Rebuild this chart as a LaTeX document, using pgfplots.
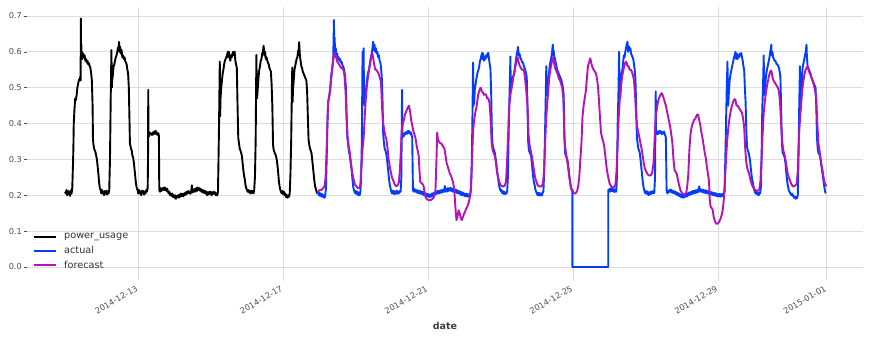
\documentclass[border=0pt]{standalone}
\usepackage{pgfplots}
\pgfplotsset{compat=1.18}
\usepackage{fontspec}
\setmainfont{DejaVu Sans}
\definecolor{dblue}{HTML}{003DFD}
\definecolor{dmag}{HTML}{B512B8}
\definecolor{dgrid}{HTML}{DEDEDE}
\definecolor{dtick}{HTML}{4D4D4D}
\begin{document}
\begin{tikzpicture}
\begin{axis}[name=ax,
  scale only axis, width=836bp, height=271bp,
  xmin=-3.07, xmax=20.0, ymin=-0.0307, ymax=0.725,
  axis line style={draw=none},
  grid=major, grid style={color=dgrid, line width=0.8bp},
  xtick={0,4,8,12,16,19},
  xticklabels={2014-12-13,2014-12-17,2014-12-21,2014-12-25,2014-12-29,2015-01-01},
  ytick={0,0.1,0.2,0.3,0.4,0.5,0.6,0.7},
  xtick pos=bottom, ytick pos=left, tick align=outside,
  major tick length=3bp,
  tick style={color=dtick, line width=0.6bp},
  x tick style={color=dgrid, line width=0.8bp},
  /pgf/number format/assume math mode=true,
  ticklabel style={font=\fontsize{8.2bp}{9.5bp}\selectfont, text=dtick},
  xticklabel style={rotate=30, anchor=north east, inner sep=2bp, xshift=-2.5bp},
  yticklabel style={/pgf/number format/fixed, /pgf/number format/fixed zerofill, /pgf/number format/precision=1, inner sep=2bp},
  xlabel={date},
  every axis x label/.style={at={(rel axis cs:0.5,0)}, yshift=-48bp, anchor=center, font=\fontsize{9.5bp}{11bp}\selectfont\bfseries, text=dtick!80!black},
  legend style={draw=none, fill=none, at={(rel axis cs:0.0,0.0)}, anchor=south west, xshift=4bp, yshift=4bp,
    font=\fontsize{9.7bp}{11bp}\selectfont, text=black!80, row sep=2bp, inner sep=2bp,
    /tikz/every odd column/.append style={column sep=5bp}},
  legend cell align=left,
  legend image code/.code={\draw[#1, line width=2bp] (0bp,0bp) -- (22bp,0bp);},
  every axis plot/.append style={line width=1.9bp, line join=round},
]
\addplot[black] coordinates {
(-2.02,0.210)(-2.00,0.205)(-1.98,0.215)(-1.96,0.200)(-1.94,0.212)(-1.92,0.203)(-1.90,0.210)(-1.88,0.198)(-1.86,0.214)(-1.84,0.205)
(-1.82,0.222)(-1.80,0.29)(-1.79,0.33)(-1.78,0.40)(-1.77,0.42)(-1.76,0.44)(-1.74,0.47)(-1.72,0.465)(-1.70,0.48)(-1.68,0.50)
(-1.66,0.51)(-1.64,0.52)(-1.62,0.525)(-1.60,0.53)(-1.59,0.52)(-1.585,0.693)(-1.58,0.58)(-1.57,0.62)(-1.56,0.585)(-1.55,0.60)
(-1.54,0.58)(-1.52,0.595)(-1.50,0.585)(-1.48,0.590)(-1.46,0.575)(-1.44,0.580)(-1.42,0.570)(-1.40,0.575)(-1.38,0.565)(-1.36,0.568)
(-1.34,0.560)(-1.32,0.555)(-1.30,0.540)(-1.28,0.52)(-1.26,0.45)(-1.25,0.36)(-1.24,0.345)(-1.22,0.33)(-1.20,0.325)(-1.18,0.32)
(-1.16,0.31)(-1.14,0.30)(-1.12,0.28)(-1.10,0.26)(-1.08,0.235)(-1.06,0.22)(-1.04,0.215)(-1.02,0.205)(-1.00,0.215)(-0.98,0.205)
(-0.96,0.21)(-0.94,0.20)(-0.92,0.212)(-0.90,0.205)(-0.88,0.213)(-0.86,0.202)(-0.84,0.21)(-0.82,0.205)(-0.80,0.215)(-0.79,0.26)
(-0.78,0.30)(-0.76,0.47)(-0.74,0.605)(-0.73,0.50)(-0.72,0.52)(-0.70,0.535)(-0.68,0.56)(-0.66,0.565)(-0.64,0.575)(-0.62,0.585)
(-0.60,0.59)(-0.58,0.60)(-0.56,0.61)(-0.54,0.615)(-0.53,0.628)(-0.52,0.60)(-0.50,0.615)(-0.48,0.595)(-0.46,0.605)(-0.44,0.585)
(-0.42,0.59)(-0.40,0.580)(-0.38,0.585)(-0.36,0.575)(-0.34,0.57)(-0.32,0.565)(-0.30,0.55)(-0.28,0.54)(-0.26,0.50)(-0.24,0.40)
(-0.23,0.345)(-0.20,0.33)(-0.18,0.325)(-0.16,0.31)(-0.14,0.305)(-0.12,0.29)(-0.10,0.27)(-0.08,0.25)(-0.06,0.23)(-0.04,0.22)
(-0.02,0.215)(0.00,0.205)(0.02,0.215)(0.04,0.205)(0.06,0.21)(0.08,0.20)(0.10,0.213)(0.12,0.205)(0.14,0.212)(0.16,0.202)
(0.18,0.21)(0.20,0.205)(0.22,0.215)(0.24,0.21)(0.26,0.22)(0.27,0.30)(0.276,0.494)(0.28,0.37)(0.30,0.365)(0.32,0.375)
(0.34,0.37)(0.36,0.372)(0.38,0.368)(0.40,0.375)(0.42,0.37)(0.44,0.378)(0.46,0.372)(0.48,0.38)(0.50,0.37)(0.52,0.375)
(0.54,0.368)(0.56,0.372)(0.57,0.365)(0.58,0.215)(0.60,0.21)(0.62,0.22)(0.64,0.212)(0.66,0.218)(0.68,0.22)(0.70,0.215)
(0.72,0.222)(0.74,0.214)(0.76,0.22)(0.78,0.212)(0.80,0.218)(0.82,0.21)(0.84,0.205)(0.86,0.21)(0.88,0.2)(0.90,0.205)
(0.92,0.198)(0.94,0.205)(0.96,0.195)(0.98,0.2)(1.00,0.193)(1.02,0.2)(1.04,0.19)(1.06,0.198)(1.08,0.195)(1.10,0.2)
(1.12,0.193)(1.14,0.202)(1.16,0.196)(1.18,0.205)(1.20,0.198)(1.22,0.204)(1.24,0.197)(1.26,0.205)(1.28,0.2)(1.30,0.208)
(1.32,0.202)(1.34,0.21)(1.36,0.205)(1.38,0.212)(1.40,0.206)(1.42,0.21)(1.44,0.204)(1.46,0.21)(1.48,0.228)(1.50,0.208)
(1.52,0.215)(1.54,0.21)(1.56,0.218)(1.58,0.21)(1.60,0.22)(1.62,0.212)(1.64,0.222)(1.66,0.215)(1.68,0.22)(1.70,0.213)
(1.72,0.218)(1.74,0.21)(1.76,0.215)(1.78,0.208)(1.80,0.214)(1.82,0.206)(1.84,0.212)(1.86,0.205)(1.88,0.21)(1.90,0.2)
(1.92,0.208)(1.94,0.202)(1.96,0.21)(1.98,0.205)(2.00,0.21)(2.02,0.2)(2.04,0.208)(2.06,0.203)(2.08,0.21)(2.10,0.205)
(2.12,0.208)(2.14,0.2)(2.16,0.205)(2.18,0.2)(2.20,0.21)(2.21,0.27)(2.23,0.40)(2.25,0.573)(2.26,0.42)(2.27,0.47)
(2.29,0.50)(2.31,0.52)(2.33,0.54)(2.35,0.55)(2.37,0.565)(2.39,0.575)(2.41,0.58)(2.43,0.585)(2.45,0.59)(2.47,0.60)
(2.48,0.585)(2.50,0.60)(2.52,0.59)(2.54,0.575)(2.56,0.59)(2.58,0.585)(2.60,0.595)(2.62,0.60)(2.64,0.59)(2.66,0.60)
(2.68,0.575)(2.70,0.565)(2.72,0.555)(2.74,0.45)(2.76,0.36)(2.78,0.345)(2.80,0.33)(2.82,0.325)(2.84,0.318)(2.86,0.31)
(2.88,0.29)(2.90,0.27)(2.92,0.255)(2.94,0.245)(2.96,0.228)(2.98,0.22)(3.00,0.215)(3.02,0.21)(3.04,0.215)(3.06,0.208)
(3.08,0.212)(3.10,0.205)(3.12,0.213)(3.14,0.207)(3.16,0.212)(3.18,0.205)(3.20,0.215)(3.22,0.25)(3.24,0.35)(3.26,0.591)
(3.27,0.50)(3.28,0.47)(3.30,0.50)(3.32,0.53)(3.34,0.55)(3.36,0.56)(3.38,0.575)(3.40,0.58)(3.42,0.595)(3.44,0.60)
(3.46,0.617)(3.48,0.59)(3.50,0.60)(3.52,0.58)(3.54,0.585)(3.56,0.575)(3.58,0.57)(3.60,0.565)(3.62,0.555)(3.64,0.55)
(3.66,0.545)(3.68,0.51)(3.70,0.45)(3.72,0.34)(3.74,0.325)(3.76,0.32)(3.78,0.315)(3.80,0.31)(3.82,0.30)(3.84,0.285)
(3.86,0.265)(3.88,0.24)(3.90,0.225)(3.92,0.215)(3.94,0.21)(3.96,0.205)(3.98,0.212)(4.00,0.203)(4.02,0.21)(4.04,0.2)
(4.06,0.205)(4.08,0.195)(4.10,0.2)(4.12,0.193)(4.14,0.2)(4.16,0.196)(4.18,0.205)(4.20,0.26)(4.22,0.35)(4.24,0.50)
(4.25,0.556)(4.26,0.46)(4.27,0.494)(4.29,0.52)(4.31,0.55)(4.33,0.56)(4.35,0.57)(4.37,0.58)(4.39,0.585)(4.41,0.60)
(4.43,0.61)(4.44,0.627)(4.46,0.59)(4.48,0.575)(4.50,0.56)(4.52,0.555)(4.54,0.545)(4.56,0.54)(4.58,0.535)(4.60,0.53)
(4.62,0.525)(4.64,0.52)(4.66,0.49)(4.68,0.42)(4.70,0.355)(4.72,0.34)(4.74,0.33)(4.76,0.325)(4.78,0.318)(4.80,0.30)
(4.82,0.28)(4.84,0.26)(4.86,0.24)(4.88,0.225)(4.90,0.218)(4.92,0.21)(4.94,0.205)
};
\addlegendentry{power\_usage}
\addplot[dblue] coordinates {
(4.94,0.205)(4.96,0.21)(4.98,0.2)(5.00,0.207)(5.02,0.198)(5.04,0.205)(5.06,0.197)(5.08,0.203)(5.10,0.195)(5.12,0.2)
(5.14,0.193)(5.16,0.2)(5.18,0.22)(5.20,0.30)(5.22,0.40)(5.24,0.46)(5.26,0.47)(5.28,0.485)(5.30,0.50)(5.32,0.53)
(5.34,0.545)(5.36,0.56)(5.38,0.58)(5.40,0.689)(5.41,0.61)(5.42,0.64)(5.43,0.60)(5.45,0.61)(5.47,0.585)(5.49,0.595)
(5.51,0.58)(5.53,0.585)(5.55,0.575)(5.57,0.58)(5.59,0.57)(5.61,0.572)(5.63,0.565)(5.65,0.56)(5.67,0.555)(5.69,0.545)
(5.71,0.53)(5.73,0.50)(5.75,0.42)(5.77,0.36)(5.79,0.345)(5.81,0.325)(5.83,0.315)(5.85,0.30)(5.87,0.285)(5.89,0.27)
(5.91,0.245)(5.93,0.225)(5.95,0.215)(5.97,0.21)(5.99,0.205)(6.01,0.212)(6.03,0.203)(6.05,0.21)(6.07,0.2)(6.09,0.207)
(6.11,0.2)(6.13,0.21)(6.15,0.25)(6.17,0.35)(6.19,0.60)(6.21,0.47)(6.22,0.61)(6.23,0.46)(6.25,0.45)(6.27,0.48)
(6.29,0.50)(6.31,0.52)(6.33,0.535)(6.35,0.545)(6.37,0.55)(6.39,0.565)(6.41,0.58)(6.43,0.59)(6.45,0.60)(6.47,0.615)
(6.48,0.628)(6.50,0.605)(6.52,0.62)(6.54,0.60)(6.56,0.61)(6.58,0.595)(6.60,0.6)(6.62,0.585)(6.64,0.59)(6.66,0.575)
(6.68,0.57)(6.70,0.555)(6.72,0.53)(6.74,0.47)(6.76,0.37)(6.78,0.346)(6.80,0.33)(6.82,0.325)(6.84,0.318)(6.86,0.305)
(6.88,0.285)(6.90,0.265)(6.92,0.245)(6.94,0.23)(6.96,0.22)(6.98,0.212)(7.00,0.205)(7.02,0.213)(7.04,0.204)(7.06,0.212)
(7.08,0.203)(7.10,0.21)(7.12,0.205)(7.14,0.213)(7.16,0.204)(7.18,0.21)(7.20,0.206)(7.22,0.212)(7.24,0.21)(7.26,0.25)
(7.28,0.494)(7.29,0.36)(7.31,0.37)(7.33,0.365)(7.35,0.372)(7.37,0.375)(7.39,0.37)(7.41,0.377)(7.43,0.372)(7.45,0.38)
(7.47,0.374)(7.49,0.378)(7.51,0.37)(7.53,0.374)(7.55,0.365)(7.56,0.36)(7.58,0.215)(7.60,0.21)(7.62,0.218)(7.64,0.21)
(7.66,0.215)(7.68,0.208)(7.70,0.214)(7.72,0.206)(7.74,0.213)(7.76,0.205)(7.78,0.212)(7.80,0.204)(7.82,0.21)(7.84,0.203)
(7.86,0.21)(7.88,0.2)(7.90,0.207)(7.92,0.198)(7.94,0.205)(7.96,0.197)(7.98,0.204)(8.00,0.196)(8.02,0.203)(8.04,0.195)
(8.06,0.202)(8.08,0.196)(8.10,0.205)(8.12,0.198)(8.14,0.206)(8.16,0.2)(8.18,0.208)(8.20,0.202)(8.22,0.21)(8.24,0.204)
(8.26,0.212)(8.28,0.205)(8.30,0.213)(8.32,0.206)(8.34,0.214)(8.36,0.207)(8.38,0.215)(8.40,0.208)(8.42,0.216)(8.44,0.21)
(8.46,0.226)(8.48,0.21)(8.50,0.218)(8.52,0.21)(8.54,0.22)(8.56,0.212)(8.58,0.22)(8.60,0.213)(8.62,0.221)(8.64,0.212)
(8.66,0.219)(8.68,0.21)(8.70,0.218)(8.72,0.209)(8.74,0.216)(8.76,0.208)(8.78,0.215)(8.80,0.206)(8.82,0.213)(8.84,0.205)
(8.86,0.211)(8.88,0.203)(8.90,0.21)(8.92,0.2)(8.94,0.208)(8.96,0.2)(8.98,0.206)(9.00,0.198)(9.02,0.205)(9.04,0.197)
(9.06,0.204)(9.08,0.196)(9.10,0.203)(9.12,0.197)(9.14,0.202)(9.16,0.2)(9.18,0.22)(9.20,0.27)(9.22,0.40)(9.24,0.57)
(9.25,0.45)(9.27,0.46)(9.29,0.50)(9.31,0.51)(9.33,0.525)(9.35,0.535)(9.37,0.545)(9.39,0.55)(9.41,0.56)(9.43,0.575)
(9.45,0.58)(9.47,0.59)(9.49,0.597)(9.50,0.58)(9.52,0.595)(9.54,0.575)(9.56,0.585)(9.58,0.58)(9.60,0.59)(9.62,0.585)
(9.64,0.595)(9.66,0.597)(9.68,0.58)(9.70,0.565)(9.72,0.55)(9.74,0.48)(9.76,0.37)(9.78,0.34)(9.80,0.33)(9.82,0.325)
(9.84,0.318)(9.86,0.305)(9.88,0.29)(9.90,0.27)(9.92,0.255)(9.94,0.24)(9.96,0.225)(9.98,0.218)(10.00,0.212)(10.02,0.215)
(10.04,0.206)(10.06,0.212)(10.08,0.204)(10.10,0.21)(10.12,0.203)(10.14,0.208)(10.16,0.205)(10.18,0.21)(10.20,0.25)(10.22,0.36)
(10.23,0.42)(10.25,0.50)(10.27,0.587)(10.28,0.49)(10.30,0.50)(10.32,0.52)(10.34,0.53)(10.36,0.535)(10.38,0.54)(10.40,0.56)
(10.42,0.575)(10.44,0.59)(10.46,0.60)(10.48,0.614)(10.50,0.59)(10.52,0.595)(10.54,0.585)(10.56,0.58)(10.58,0.575)(10.60,0.57)
(10.62,0.57)(10.64,0.56)(10.66,0.555)(10.68,0.55)(10.70,0.54)(10.72,0.53)(10.74,0.46)(10.76,0.35)(10.78,0.325)(10.80,0.32)
(10.82,0.315)(10.84,0.31)(10.86,0.29)(10.88,0.27)(10.90,0.25)(10.92,0.235)(10.94,0.228)(10.96,0.215)(10.98,0.21)(11.00,0.205)
(11.02,0.2)(11.04,0.207)(11.06,0.2)(11.08,0.206)(11.10,0.199)(11.12,0.205)(11.14,0.2)(11.16,0.207)(11.18,0.21)(11.20,0.26)
(11.22,0.345)(11.24,0.45)(11.26,0.56)(11.27,0.52)(11.28,0.48)(11.30,0.50)(11.32,0.52)(11.34,0.545)(11.36,0.565)(11.38,0.575)
(11.40,0.585)(11.42,0.60)(11.44,0.62)(11.45,0.59)(11.46,0.605)(11.48,0.587)(11.50,0.58)(11.52,0.57)(11.54,0.56)(11.56,0.55)
(11.58,0.545)(11.60,0.54)(11.62,0.535)(11.64,0.53)(11.66,0.525)(11.68,0.52)(11.70,0.51)(11.72,0.50)(11.74,0.48)(11.76,0.36)
(11.78,0.318)(11.80,0.31)(11.82,0.305)(11.84,0.30)(11.86,0.29)(11.88,0.27)(11.90,0.25)(11.92,0.235)(11.94,0.22)(11.96,0.215)
(11.98,0.21)(11.981,0.0)(12.97,0.0)(12.971,0.215)(12.99,0.21)(13.01,0.218)(13.03,0.21)(13.05,0.22)(13.07,0.212)(13.09,0.218)
(13.11,0.21)(13.13,0.217)(13.15,0.209)(13.17,0.215)(13.19,0.21)(13.21,0.25)(13.23,0.40)(13.25,0.48)(13.27,0.60)(13.28,0.50)
(13.30,0.47)(13.32,0.51)(13.34,0.54)(13.36,0.55)(13.38,0.57)(13.40,0.59)(13.42,0.585)(13.44,0.60)(13.46,0.61)(13.48,0.62)
(13.50,0.628)(13.52,0.60)(13.54,0.615)(13.56,0.605)(13.58,0.61)(13.60,0.595)(13.62,0.59)(13.64,0.585)(13.66,0.58)(13.68,0.565)
(13.70,0.55)(13.72,0.525)(13.74,0.45)(13.76,0.36)(13.78,0.345)(13.80,0.33)(13.82,0.325)(13.84,0.318)(13.86,0.30)(13.88,0.28)
(13.90,0.26)(13.92,0.24)(13.94,0.225)(13.96,0.215)(13.98,0.208)(14.00,0.205)(14.02,0.212)(14.04,0.204)(14.06,0.21)(14.08,0.2)
(14.10,0.208)(14.12,0.202)(14.14,0.21)(14.16,0.204)(14.18,0.211)(14.20,0.205)(14.22,0.212)(14.24,0.206)(14.26,0.25)(14.28,0.49)
(14.29,0.37)(14.31,0.375)(14.33,0.37)(14.35,0.378)(14.37,0.372)(14.39,0.38)(14.41,0.374)(14.43,0.378)(14.45,0.37)(14.47,0.376)
(14.49,0.372)(14.51,0.378)(14.53,0.37)(14.55,0.365)(14.56,0.36)(14.58,0.215)(14.60,0.205)(14.62,0.212)(14.64,0.208)(14.66,0.215)
(14.68,0.21)(14.70,0.216)(14.72,0.208)(14.74,0.213)(14.76,0.206)(14.78,0.212)(14.80,0.205)(14.82,0.21)(14.84,0.203)(14.86,0.208)
(14.88,0.2)(14.90,0.206)(14.92,0.198)(14.94,0.204)(14.96,0.196)(14.98,0.202)(15.00,0.194)(15.02,0.2)(15.04,0.193)(15.06,0.2)
(15.08,0.195)(15.10,0.203)(15.12,0.196)(15.14,0.205)(15.16,0.198)(15.18,0.207)(15.20,0.2)(15.22,0.208)(15.24,0.202)(15.26,0.21)
(15.28,0.203)(15.30,0.212)(15.32,0.205)(15.34,0.213)(15.36,0.206)(15.38,0.214)(15.40,0.207)(15.42,0.215)(15.44,0.208)(15.46,0.216)
(15.48,0.225)(15.50,0.21)(15.52,0.217)(15.54,0.21)(15.56,0.216)(15.58,0.208)(15.60,0.215)(15.62,0.207)(15.64,0.214)(15.66,0.206)
(15.68,0.213)(15.70,0.205)(15.72,0.212)(15.74,0.204)(15.76,0.21)(15.78,0.203)(15.80,0.21)(15.82,0.202)(15.84,0.208)(15.86,0.2)
(15.88,0.207)(15.90,0.2)(15.92,0.206)(15.94,0.198)(15.96,0.205)(15.98,0.197)(16.00,0.203)(16.02,0.197)(16.04,0.204)(16.06,0.196)
(16.08,0.203)(16.10,0.197)(16.12,0.204)(16.14,0.198)(16.16,0.205)(16.18,0.21)(16.20,0.30)(16.22,0.40)(16.24,0.50)(16.26,0.573)
(16.27,0.48)(16.28,0.45)(16.30,0.49)(16.32,0.52)(16.34,0.535)(16.36,0.545)(16.38,0.555)(16.40,0.565)(16.42,0.575)(16.44,0.585)
(16.46,0.59)(16.48,0.60)(16.50,0.58)(16.52,0.595)(16.54,0.58)(16.56,0.59)(16.58,0.585)(16.60,0.595)(16.62,0.59)(16.64,0.597)
(16.66,0.585)(16.68,0.575)(16.70,0.56)(16.72,0.55)(16.74,0.50)(16.76,0.46)(16.78,0.38)(16.80,0.335)(16.82,0.325)(16.84,0.32)
(16.86,0.31)(16.88,0.30)(16.90,0.28)(16.92,0.26)(16.94,0.245)(16.96,0.235)(16.98,0.225)(17.00,0.215)(17.02,0.208)(17.04,0.205)
(17.06,0.21)(17.08,0.202)(17.10,0.208)(17.12,0.2)(17.14,0.207)(17.16,0.205)(17.18,0.22)(17.20,0.30)(17.22,0.44)(17.24,0.50)
(17.26,0.59)(17.27,0.50)(17.28,0.48)(17.30,0.50)(17.32,0.53)(17.34,0.545)(17.36,0.555)(17.38,0.565)(17.40,0.575)(17.42,0.585)
(17.44,0.60)(17.46,0.61)(17.47,0.62)(17.48,0.59)(17.50,0.60)(17.52,0.585)(17.54,0.58)(17.56,0.575)(17.58,0.575)(17.60,0.57)
(17.62,0.565)(17.64,0.565)(17.66,0.56)(17.68,0.555)(17.70,0.545)(17.72,0.53)(17.74,0.45)(17.76,0.35)(17.78,0.32)(17.80,0.315)
(17.82,0.31)(17.84,0.305)(17.86,0.29)(17.88,0.265)(17.90,0.245)(17.92,0.23)(17.94,0.22)(17.96,0.212)(17.98,0.208)(18.00,0.205)
(18.02,0.2)(18.04,0.205)(18.06,0.198)(18.08,0.2)(18.10,0.193)(18.12,0.195)(18.14,0.19)(18.16,0.196)(18.18,0.192)(18.20,0.2)
(18.22,0.30)(18.24,0.45)(18.26,0.56)(18.27,0.46)(18.28,0.44)(18.30,0.49)(18.32,0.54)(18.34,0.56)(18.36,0.57)(18.38,0.58)
(18.40,0.59)(18.42,0.60)(18.44,0.62)(18.45,0.59)(18.47,0.56)(18.49,0.555)(18.51,0.55)(18.53,0.545)(18.55,0.54)(18.57,0.53)
(18.59,0.525)(18.61,0.52)(18.63,0.515)(18.65,0.51)(18.67,0.505)(18.69,0.50)(18.71,0.45)(18.73,0.36)(18.75,0.33)(18.77,0.318)
(18.79,0.315)(18.81,0.31)(18.83,0.30)(18.85,0.285)(18.87,0.27)(18.89,0.255)(18.91,0.24)(18.93,0.225)(18.95,0.212)(18.97,0.205)
};
\addlegendentry{actual}
\addplot[dmag] coordinates {
(4.94,0.21)(4.98,0.212)(5.02,0.215)(5.06,0.215)(5.10,0.22)(5.14,0.225)(5.17,0.25)(5.20,0.33)(5.22,0.40)(5.24,0.46)
(5.26,0.47)(5.28,0.48)(5.30,0.50)(5.33,0.53)(5.36,0.56)(5.39,0.585)(5.42,0.597)(5.44,0.585)(5.46,0.59)(5.48,0.575)
(5.51,0.57)(5.54,0.565)(5.57,0.56)(5.60,0.555)(5.63,0.555)(5.66,0.55)(5.69,0.535)(5.72,0.49)(5.74,0.44)(5.76,0.39)
(5.78,0.36)(5.81,0.335)(5.84,0.318)(5.87,0.29)(5.90,0.265)(5.94,0.245)(5.98,0.23)(6.02,0.225)(6.06,0.22)(6.10,0.22)
(6.13,0.23)(6.16,0.28)(6.19,0.33)(6.22,0.36)(6.25,0.42)(6.28,0.47)(6.31,0.505)(6.34,0.53)(6.37,0.55)(6.40,0.57)
(6.43,0.585)(6.46,0.597)(6.48,0.585)(6.51,0.565)(6.54,0.55)(6.57,0.55)(6.60,0.545)(6.63,0.54)(6.66,0.53)(6.69,0.52)
(6.71,0.49)(6.73,0.44)(6.76,0.40)(6.79,0.38)(6.82,0.365)(6.85,0.355)(6.88,0.33)(6.91,0.30)(6.94,0.28)(6.97,0.265)
(7.00,0.25)(7.04,0.24)(7.08,0.23)(7.12,0.225)(7.16,0.228)(7.19,0.235)(7.22,0.27)(7.25,0.33)(7.27,0.38)(7.30,0.40)
(7.33,0.41)(7.36,0.425)(7.40,0.435)(7.44,0.445)(7.47,0.45)(7.50,0.435)(7.53,0.41)(7.56,0.395)(7.59,0.38)(7.62,0.37)
(7.65,0.36)(7.68,0.34)(7.71,0.325)(7.74,0.31)(7.76,0.27)(7.78,0.238)(7.81,0.235)(7.84,0.232)(7.87,0.228)(7.90,0.21)
(7.93,0.195)(7.96,0.19)(8.00,0.187)(8.04,0.186)(8.08,0.187)(8.12,0.19)(8.16,0.195)(8.20,0.21)(8.23,0.30)(8.25,0.375)
(8.27,0.355)(8.30,0.35)(8.33,0.345)(8.36,0.345)(8.39,0.34)(8.42,0.335)(8.45,0.33)(8.48,0.31)(8.51,0.29)(8.54,0.28)
(8.57,0.27)(8.60,0.26)(8.63,0.255)(8.66,0.245)(8.69,0.235)(8.72,0.215)(8.75,0.17)(8.78,0.131)(8.81,0.14)(8.84,0.158)
(8.87,0.15)(8.90,0.135)(8.93,0.131)(8.96,0.14)(9.00,0.15)(9.04,0.16)(9.08,0.168)(9.12,0.18)(9.15,0.195)(9.18,0.215)
(9.21,0.30)(9.24,0.38)(9.27,0.41)(9.30,0.43)(9.34,0.45)(9.38,0.48)(9.42,0.495)(9.45,0.50)(9.48,0.49)(9.51,0.487)
(9.54,0.48)(9.57,0.482)(9.60,0.48)(9.63,0.47)(9.66,0.47)(9.69,0.46)(9.72,0.42)(9.75,0.35)(9.78,0.325)(9.81,0.318)
(9.84,0.31)(9.87,0.29)(9.90,0.265)(9.93,0.25)(9.96,0.238)(10.00,0.228)(10.04,0.225)(10.08,0.225)(10.12,0.228)(10.15,0.24)
(10.18,0.30)(10.21,0.38)(10.24,0.45)(10.27,0.48)(10.30,0.50)(10.33,0.515)(10.36,0.535)(10.39,0.55)(10.42,0.565)(10.45,0.58)
(10.47,0.585)(10.50,0.57)(10.53,0.56)(10.56,0.555)(10.59,0.55)(10.62,0.55)(10.65,0.545)(10.68,0.52)(10.71,0.49)(10.74,0.45)
(10.77,0.37)(10.80,0.34)(10.83,0.325)(10.86,0.31)(10.89,0.29)(10.92,0.27)(10.95,0.25)(10.98,0.24)(11.02,0.228)(11.06,0.225)
(11.10,0.225)(11.14,0.225)(11.17,0.235)(11.20,0.27)(11.23,0.35)(11.26,0.42)(11.29,0.46)(11.32,0.50)(11.35,0.535)(11.38,0.555)
(11.41,0.57)(11.44,0.585)(11.46,0.58)(11.49,0.56)(11.52,0.55)(11.55,0.545)(11.58,0.535)(11.61,0.525)(11.64,0.52)(11.67,0.51)
(11.70,0.50)(11.73,0.47)(11.75,0.40)(11.77,0.345)(11.80,0.32)(11.83,0.30)(11.86,0.28)(11.89,0.255)(11.92,0.235)(11.95,0.22)
(11.99,0.212)(12.03,0.205)(12.07,0.205)(12.11,0.212)(12.14,0.225)(12.17,0.25)(12.20,0.30)(12.23,0.345)(12.26,0.42)(12.29,0.45)
(12.32,0.47)(12.35,0.49)(12.38,0.525)(12.41,0.56)(12.44,0.57)(12.47,0.582)(12.49,0.575)(12.51,0.565)(12.54,0.555)(12.57,0.55)
(12.60,0.545)(12.63,0.54)(12.66,0.525)(12.69,0.50)(12.71,0.47)(12.74,0.42)(12.77,0.375)(12.80,0.36)(12.83,0.35)(12.86,0.335)
(12.89,0.31)(12.92,0.28)(12.95,0.26)(12.98,0.245)(13.01,0.232)(13.05,0.225)(13.09,0.222)(13.13,0.222)(13.17,0.23)(13.20,0.27)
(13.23,0.345)(13.26,0.42)(13.29,0.47)(13.32,0.50)(13.35,0.53)(13.38,0.545)(13.41,0.56)(13.44,0.57)(13.47,0.572)(13.50,0.56)
(13.53,0.56)(13.56,0.55)(13.59,0.55)(13.62,0.545)(13.65,0.535)(13.68,0.52)(13.71,0.48)(13.74,0.42)(13.77,0.39)(13.80,0.375)
(13.83,0.36)(13.86,0.345)(13.89,0.33)(13.92,0.31)(13.95,0.29)(13.98,0.275)(14.02,0.265)(14.06,0.258)(14.10,0.255)(14.14,0.255)
(14.18,0.262)(14.22,0.29)(14.25,0.36)(14.28,0.42)(14.31,0.44)(14.34,0.46)(14.37,0.47)(14.40,0.478)(14.44,0.485)(14.47,0.48)
(14.50,0.47)(14.53,0.46)(14.56,0.45)(14.59,0.435)(14.62,0.42)(14.65,0.405)(14.68,0.39)(14.71,0.37)(14.74,0.345)(14.77,0.30)
(14.80,0.27)(14.83,0.265)(14.86,0.26)(14.89,0.245)(14.92,0.23)(14.96,0.215)(15.00,0.207)(15.04,0.203)(15.08,0.203)(15.12,0.207)
(15.15,0.225)(15.18,0.26)(15.21,0.33)(15.24,0.37)(15.27,0.39)(15.30,0.40)(15.34,0.41)(15.38,0.415)(15.42,0.425)(15.45,0.425)
(15.48,0.41)(15.51,0.395)(15.54,0.375)(15.57,0.36)(15.60,0.34)(15.63,0.32)(15.66,0.305)(15.69,0.28)(15.72,0.26)(15.75,0.24)
(15.77,0.19)(15.79,0.17)(15.82,0.165)(15.85,0.16)(15.88,0.14)(15.91,0.128)(15.94,0.122)(15.97,0.12)(16.00,0.122)(16.04,0.128)
(16.07,0.135)(16.10,0.145)(16.13,0.16)(16.16,0.19)(16.19,0.24)(16.22,0.30)(16.25,0.35)(16.28,0.385)(16.31,0.41)(16.34,0.43)
(16.37,0.445)(16.40,0.455)(16.43,0.465)(16.46,0.468)(16.48,0.465)(16.51,0.45)(16.54,0.45)(16.57,0.445)(16.60,0.44)(16.63,0.435)
(16.66,0.43)(16.69,0.415)(16.72,0.39)(16.75,0.33)(16.78,0.29)(16.81,0.275)(16.84,0.265)(16.87,0.255)(16.90,0.24)(16.94,0.228)
(16.98,0.22)(17.02,0.215)(17.06,0.213)(17.10,0.213)(17.14,0.216)(17.17,0.24)(17.20,0.30)(17.23,0.37)(17.26,0.43)(17.29,0.46)
(17.32,0.485)(17.35,0.505)(17.38,0.52)(17.41,0.535)(17.44,0.545)(17.47,0.548)(17.50,0.53)(17.53,0.52)(17.56,0.515)(17.59,0.51)
(17.62,0.505)(17.65,0.50)(17.68,0.49)(17.71,0.46)(17.74,0.40)(17.77,0.35)(17.80,0.325)(17.83,0.315)(17.86,0.30)(17.89,0.28)
(17.92,0.262)(17.95,0.25)(17.98,0.242)(18.02,0.232)(18.06,0.225)(18.10,0.225)(18.14,0.228)(18.17,0.232)(18.20,0.27)(18.23,0.36)
(18.26,0.41)(18.29,0.45)(18.32,0.49)(18.35,0.515)(18.38,0.535)(18.41,0.548)(18.44,0.555)(18.47,0.56)(18.50,0.548)(18.53,0.54)
(18.56,0.535)(18.59,0.525)(18.62,0.515)(18.65,0.505)(18.68,0.49)(18.71,0.47)(18.74,0.40)(18.77,0.345)(18.80,0.325)(18.83,0.30)
(18.86,0.28)(18.89,0.265)(18.92,0.245)(18.95,0.232)(18.99,0.225)
};
\addlegendentry{forecast}
\end{axis}
\pgfresetboundingbox
\path[use as bounding box] ([xshift=-27bp,yshift=-61bp]ax.south west) rectangle ([xshift=8bp,yshift=7bp]ax.north east);
\end{tikzpicture}
\end{document}
